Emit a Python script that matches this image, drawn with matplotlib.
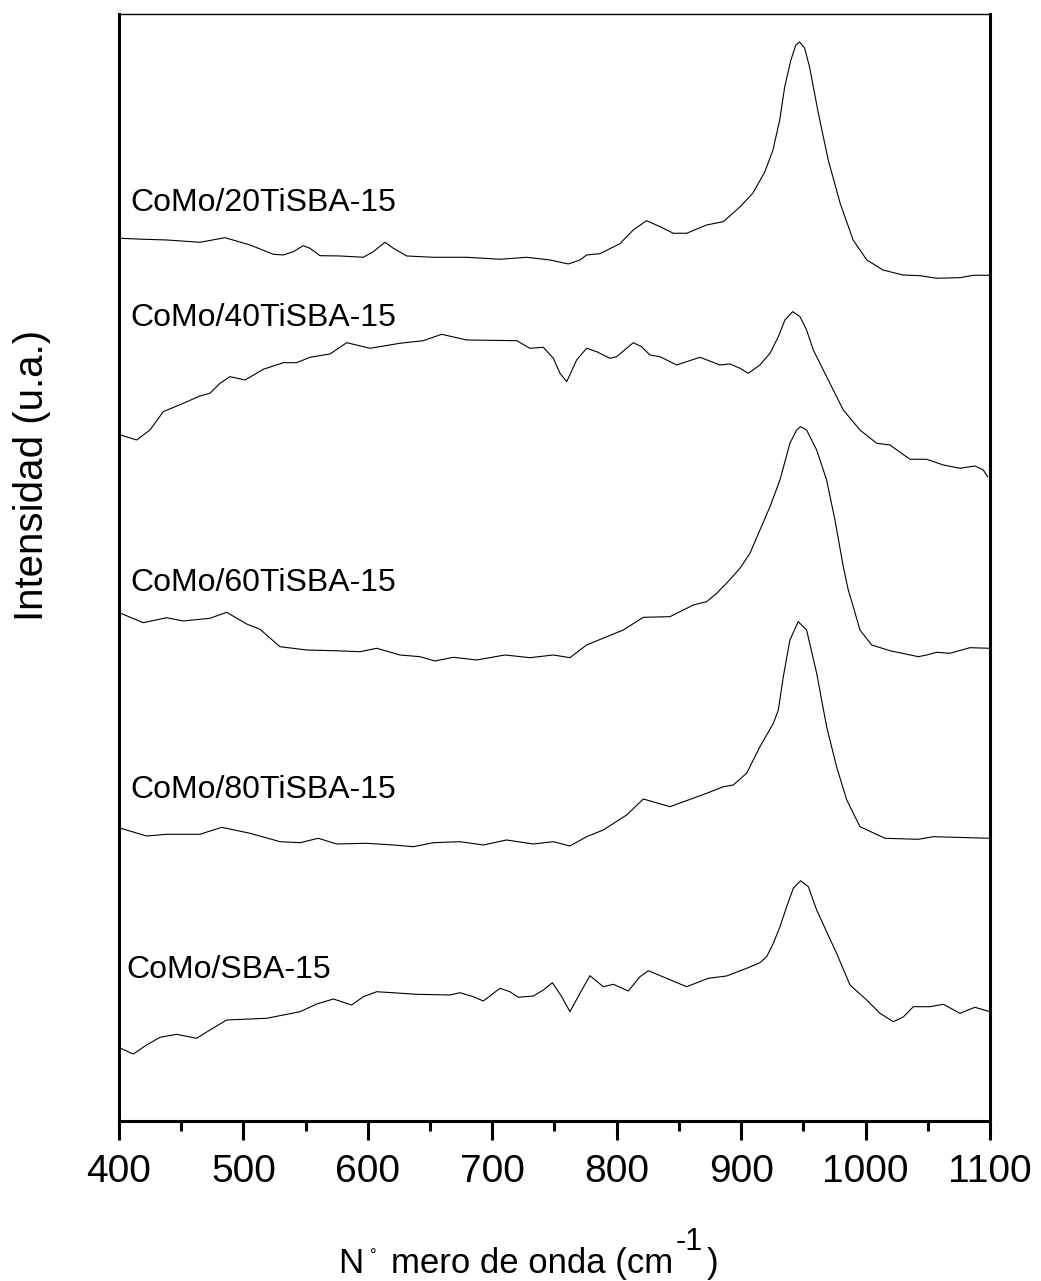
"""FT-IR style stacked spectra of CoMo catalysts on (Ti)SBA-15 supports."""

import matplotlib
matplotlib.use("Agg")
import matplotlib.pyplot as plt  # noqa: E402
from matplotlib.ticker import MultipleLocator  # noqa: E402

plt.rcParams["font.family"] = ["Liberation Sans", "DejaVu Sans"]

# Values (wavenumber in cm-1, offset intensity in a.u.).
x_20ti = [401.3, 419.6, 438.3, 465.1, 485.2, 505.3, 524.0, 532.1, 540.1, 548.1,
          553.5, 561.5, 577.6, 596.4, 604.4, 613.8, 620.5, 631.2, 652.6, 679.4,
          706.2, 727.6, 746.4, 761.1, 770.5, 775.8, 786.5, 802.6, 813.3, 824.0,
          834.8, 845.5, 856.2, 872.3, 885.7, 899.0, 909.5, 919.0, 925.6, 931.0,
          935.0, 940.0, 944.0, 947.0, 951.0, 955.0, 962.0, 970.0, 979.5, 990.0,
          1001.0, 1014.0, 1030.0, 1043.7, 1057.1, 1075.9, 1086.6, 1100.0]
y_20ti = [882.7, 881.7, 881.0, 878.7, 883.3, 876.0, 866.7, 866.0, 869.3, 875.3,
          872.7, 865.3, 865.0, 863.7, 869.3, 878.7, 872.7, 865.0, 863.7, 863.7,
          861.7, 863.7, 861.0, 857.0, 861.0, 866.0, 867.3, 877.3, 891.0, 900.3,
          894.3, 887.7, 887.7, 896.0, 899.3, 914.0, 928.0, 949.0, 971.0, 1001.0,
          1034.0, 1061.0, 1076.0, 1079.0, 1073.0, 1054.0, 1008.0, 961.0, 918.0, 881.0,
          861.0, 851.0, 846.0, 845.3, 842.7, 843.3, 845.7, 845.7]

x_40ti = [401.3, 414.2, 424.9, 435.6, 451.7, 465.1, 473.1, 481.2, 489.2, 501.3,
          516.0, 532.1, 542.8, 553.5, 569.6, 583.0, 601.7, 625.8, 644.6, 659.3,
          679.4, 719.6, 730.3, 741.0, 749.1, 754.4, 759.8, 767.8, 775.8, 783.9,
          794.6, 799.9, 808.0, 813.3, 820.0, 826.7, 834.8, 848.2, 856.2, 866.9,
          883.0, 891.0, 899.1, 905.8, 915.1, 923.2, 929.9, 935.2, 941.4, 947.3,
          952.6, 958.0, 968.7, 982.1, 995.5, 1008.9, 1019.6, 1035.7, 1049.1, 1062.5,
          1075.9, 1087.9, 1094.6, 1098.1]
y_40ti = [686.0, 681.0, 691.0, 709.3, 717.7, 725.0, 727.7, 737.7, 744.3, 741.0,
          751.7, 758.3, 758.3, 763.7, 767.0, 778.3, 772.7, 777.7, 780.3, 786.7,
          781.0, 780.3, 772.7, 773.7, 762.7, 747.7, 739.3, 761.0, 772.7, 769.3,
          762.7, 764.3, 772.7, 778.3, 774.3, 766.0, 764.3, 756.0, 759.3, 763.7,
          756.0, 757.0, 752.7, 747.7, 756.0, 767.7, 784.3, 801.0, 809.3, 804.3,
          791.0, 771.0, 744.3, 711.0, 691.0, 677.7, 676.0, 661.7, 661.7, 656.0,
          652.7, 655.0, 651.0, 644.3]

x_60ti = [401.3, 419.6, 438.3, 451.7, 473.1, 486.5, 502.6, 513.3, 529.4, 550.8,
          572.3, 593.7, 607.1, 625.8, 641.9, 653.9, 668.7, 687.4, 710.2, 730.3,
          749.1, 762.4, 775.8, 805.3, 821.4, 842.8, 850.8, 861.6, 872.3, 880.3,
          888.3, 899.1, 907.1, 915.1, 923.2, 931.2, 939.2, 944.6, 947.8, 952.6,
          960.7, 968.7, 975.4, 982.1, 986.1, 990.1, 995.5, 1004.9, 1019.6, 1042.4,
          1049.1, 1057.1, 1067.8, 1083.9, 1100.0]
y_60ti = [507.7, 498.3, 503.3, 500.0, 502.7, 508.7, 497.0, 491.7, 474.3, 471.0,
          470.3, 469.3, 472.7, 466.0, 464.3, 460.0, 463.7, 461.0, 466.0, 463.3,
          466.0, 463.3, 476.0, 491.0, 503.7, 504.3, 509.3, 516.0, 519.3, 527.7,
          537.7, 552.7, 567.7, 591.0, 614.3, 641.0, 677.7, 691.0, 694.3, 691.0,
          671.0, 641.0, 601.0, 554.3, 531.0, 514.3, 491.0, 476.0, 470.3, 464.3,
          466.0, 468.7, 467.7, 473.3, 472.7]

x_80ti = [401.3, 422.2, 438.3, 465.1, 482.5, 505.3, 529.4, 545.5, 560.2, 574.9,
          599.0, 620.5, 636.5, 652.6, 674.0, 692.8, 711.5, 733.0, 749.1, 762.4,
          775.8, 789.2, 808.0, 821.4, 842.8, 872.3, 885.7, 893.7, 904.4, 915.1,
          925.9, 929.9, 933.9, 939.2, 945.9, 952.6, 960.7, 968.7, 976.7, 984.8,
          995.5, 1015.6, 1042.4, 1054.4, 1100.0]
y_80ti = [292.7, 285.0, 286.7, 286.7, 293.7, 287.7, 279.3, 278.3, 282.7, 277.0,
          277.7, 276.0, 274.3, 278.3, 279.3, 276.0, 281.0, 277.0, 279.3, 275.0,
          284.3, 291.0, 306.0, 322.0, 314.3, 327.7, 334.3, 336.0, 347.7, 374.3,
          397.7, 411.0, 444.3, 481.0, 499.3, 491.0, 447.7, 394.3, 354.3, 321.3,
          294.3, 282.7, 281.7, 284.3, 282.7]

x_sba = [401.3, 411.5, 422.2, 433.0, 446.3, 462.4, 473.1, 486.5, 518.7, 545.5,
         558.9, 572.3, 587.0, 596.4, 607.1, 639.2, 666.0, 674.0, 684.8, 692.8,
         706.2, 714.2, 720.9, 733.0, 741.0, 748.3, 755.8, 762.4, 770.5, 778.5,
         789.2, 797.3, 809.3, 818.7, 825.4, 840.1, 856.2, 873.6, 888.3, 904.4,
         915.1, 920.5, 925.9, 931.2, 936.6, 941.9, 947.8, 954.0, 960.7, 968.7,
         976.7, 987.5, 1000.9, 1011.6, 1022.3, 1030.3, 1038.4, 1051.8, 1062.5, 1075.9,
         1087.9, 1100.0]
y_sba = [72.7, 67.0, 76.0, 83.7, 86.7, 82.7, 91.0, 101.0, 102.7, 109.3,
         117.0, 122.0, 116.0, 124.3, 129.3, 126.7, 126.0, 128.3, 124.3, 120.0,
         132.7, 129.3, 123.7, 125.0, 131.0, 138.3, 124.3, 109.3, 127.7, 145.3,
         134.3, 136.7, 130.0, 144.3, 150.3, 142.7, 134.3, 142.7, 145.0, 152.7,
         158.3, 164.3, 177.7, 194.3, 214.3, 232.7, 240.3, 234.3, 211.0, 189.3,
         167.7, 136.0, 121.0, 107.7, 99.3, 104.0, 114.3, 114.3, 116.7, 107.7,
         113.7, 109.3]

series = [(x_20ti, y_20ti), (x_40ti, y_40ti), (x_60ti, y_60ti),
          (x_80ti, y_80ti), (x_sba, y_sba)]
labels = ["CoMo/20TiSBA-15", "CoMo/40TiSBA-15", "CoMo/60TiSBA-15",
          "CoMo/80TiSBA-15", "CoMo/SBA-15"]
label_x = [409, 409, 409, 409, 406]
label_y = [918, 803, 538, 331, 151]

W, H = 1041, 1281
fig = plt.figure(figsize=(W / 100, H / 100), dpi=100)
ax = fig.add_axes([0.1143, 0.1249, 0.8367, 0.8642])

for (xs, ys) in series:
    ax.plot(xs, ys, color="black", lw=0.8)
for lab, lx, ly in zip(labels, label_x, label_y):
    ax.text(lx, ly, lab, fontsize=23, ha="left", va="center")

ax.set_xlim(400, 1100)
ax.set_ylim(0, 1107)
ax.xaxis.set_major_locator(MultipleLocator(100))
ax.xaxis.set_minor_locator(MultipleLocator(50))
ax.set_yticks([])
ax.tick_params(axis="x", which="major", direction="out", length=14, width=2.2,
               labelsize=28, pad=10)
ax.tick_params(axis="x", which="minor", direction="out", length=7, width=2.2)
for side in ("left", "right", "bottom"):
    ax.spines[side].set_linewidth(2.2)
ax.spines["top"].set_linewidth(1.0)

fig.text(32 / W, 1 - 475 / H, "Intensidad (u.a.)", fontsize=29,
         rotation=90, ha="center", va="center")

# x label built from pieces so the ring and the "-1" superscript look as in
# the original (plain hyphen, large exponent).
renderer = fig.canvas.get_renderer()
pieces = [("N", 25, 1273, 7), ("°", 12, 1261, 14), ("mero de onda (cm", 25, 1273, 3),
          ("-1", 22, 1250, 4), (")", 25, 1273, 0)]
xpos = 338
for txt, size, base, gap in pieces:
    t = fig.text(xpos / W, 1 - base / H, txt, fontsize=size, ha="left", va="baseline")
    xpos = t.get_window_extent(renderer).x1 + gap

fig.savefig("out.png", dpi=100)
